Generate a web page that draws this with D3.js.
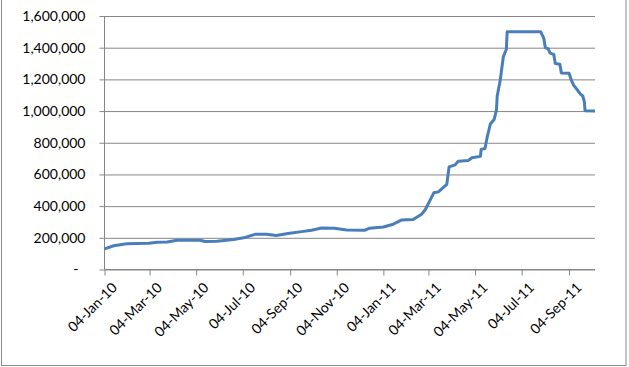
<!DOCTYPE html>
<html><head><meta charset="utf-8">
<script src="https://cdn.jsdelivr.net/npm/d3@7"></script>
<style>html,body{margin:0;padding:0;background:#fff;}svg{display:block;}</style>
</head><body>
<script>
const dates = ["2010-01-04","2010-01-16","2010-02-02","2010-03-03","2010-03-14","2010-03-27","2010-04-09","2010-05-09","2010-05-16","2010-05-31","2010-06-22","2010-07-05","2010-07-20","2010-08-04","2010-08-17","2010-09-01","2010-09-19","2010-10-02","2010-10-15","2010-11-01","2010-11-17","2010-12-11","2010-12-17","2011-01-04","2011-01-17","2011-01-28","2011-02-12","2011-02-23","2011-02-28","2011-03-11","2011-03-17","2011-03-28","2011-03-31","2011-04-08","2011-04-12","2011-04-25","2011-04-30","2011-05-11","2011-05-12","2011-05-17","2011-05-20","2011-05-24","2011-05-29","2011-06-01","2011-06-02","2011-06-06","2011-06-10","2011-06-14","2011-06-15","2011-07-29","2011-08-02","2011-08-04","2011-08-08","2011-08-10","2011-08-15","2011-08-17","2011-08-23","2011-08-25","2011-09-04","2011-09-07","2011-09-10","2011-09-15","2011-09-19","2011-09-22","2011-09-24","2011-09-25","2011-10-08"];
const values = [130000,150000,163000,165000,172000,173000,184000,185000,177000,179000,190000,200000,222000,223000,214000,227000,239000,248000,262000,260000,249000,248000,261000,268000,286000,313000,316000,349000,379000,484000,490000,537000,648000,660000,684000,688000,705000,714000,758000,764000,838000,918000,947000,1006000,1095000,1196000,1343000,1390000,1500000,1500000,1459000,1400000,1392000,1366000,1358000,1300000,1295000,1240000,1238000,1196000,1164000,1133000,1107000,1095000,1059000,1002000,1000000];
const xTickLabels = ["04-Jan-10","04-Mar-10","04-May-10","04-Jul-10","04-Sep-10","04-Nov-10","04-Jan-11","04-Mar-11","04-May-11","04-Jul-11","04-Sep-11"];
const yTicks = [0,200000,400000,600000,800000,1000000,1200000,1400000,1600000];

const W = 629, H = 367;
const pLeft = 104.5, pRight = 595, pTop = 16, pBottom = 269.5;
const parse = d3.timeParse("%Y-%m-%d");
const parseLbl = d3.timeParse("%d-%b-%y");
const data = dates.map((d,i)=>({d:parse(d), v:values[i]}));

const svg = d3.select("body").append("svg").attr("width",W).attr("height",H);
svg.append("rect").attr("x",1.5).attr("y",-1).attr("width",624.5).attr("height",366.5)
  .attr("fill","#fff").attr("stroke","#8c8c8c").attr("stroke-width",1);

const x = d3.scaleTime().domain([parse("2010-01-04"), parse("2011-10-08")]).range([pLeft,pRight]);
const y = d3.scaleLinear().domain([0,1600000]).range([pBottom,pTop]);

const font = "Lato, 'Open Sans', sans-serif";
const yAxis = d3.axisLeft(y).tickValues(yTicks).tickSize(-(pRight-pLeft))
  .tickFormat(v => v===0 ? "-" : d3.format(",")(v));
const gy = svg.append("g").attr("transform",`translate(${pLeft},0)`).call(yAxis);
gy.select(".domain").remove();
gy.selectAll(".tick line").attr("stroke","#868686").attr("x1",-5);
gy.selectAll(".tick text").attr("fill","#000").style("font-family",font).style("font-size","14px")
  .attr("x", -19);
gy.selectAll(".tick").filter(v=>v===0).select("text").attr("x",-26);

svg.append("line").attr("x1",pLeft).attr("x2",pLeft).attr("y1",pTop).attr("y2",pBottom).attr("stroke","#868686");

const xt = xTickLabels.map(s=>parseLbl(s));
const xAxis = d3.axisBottom(x).tickValues(xt).tickSize(6).tickFormat(d3.timeFormat("%d-%b-%y"));
const gx = svg.append("g").attr("transform",`translate(0,${pBottom})`).call(xAxis);
gx.select(".domain").attr("stroke","#868686").attr("d",`M${pLeft},0H${pRight}`);
gx.selectAll(".tick line").attr("stroke","#868686");
gx.selectAll(".tick text").attr("fill","#000").style("font-family",font).style("font-size","14px")
  .attr("text-anchor","end").attr("y",0).attr("dy","0.7em")
  .attr("transform","translate(6,12) rotate(-45)");

svg.append("path").datum(data).attr("fill","none").attr("stroke","#4a7ebb").attr("stroke-width",3)
  .attr("stroke-linejoin","round")
  .attr("d", d3.line().x(d=>x(d.d)).y(d=>y(d.v)));
</script>
</body></html>
